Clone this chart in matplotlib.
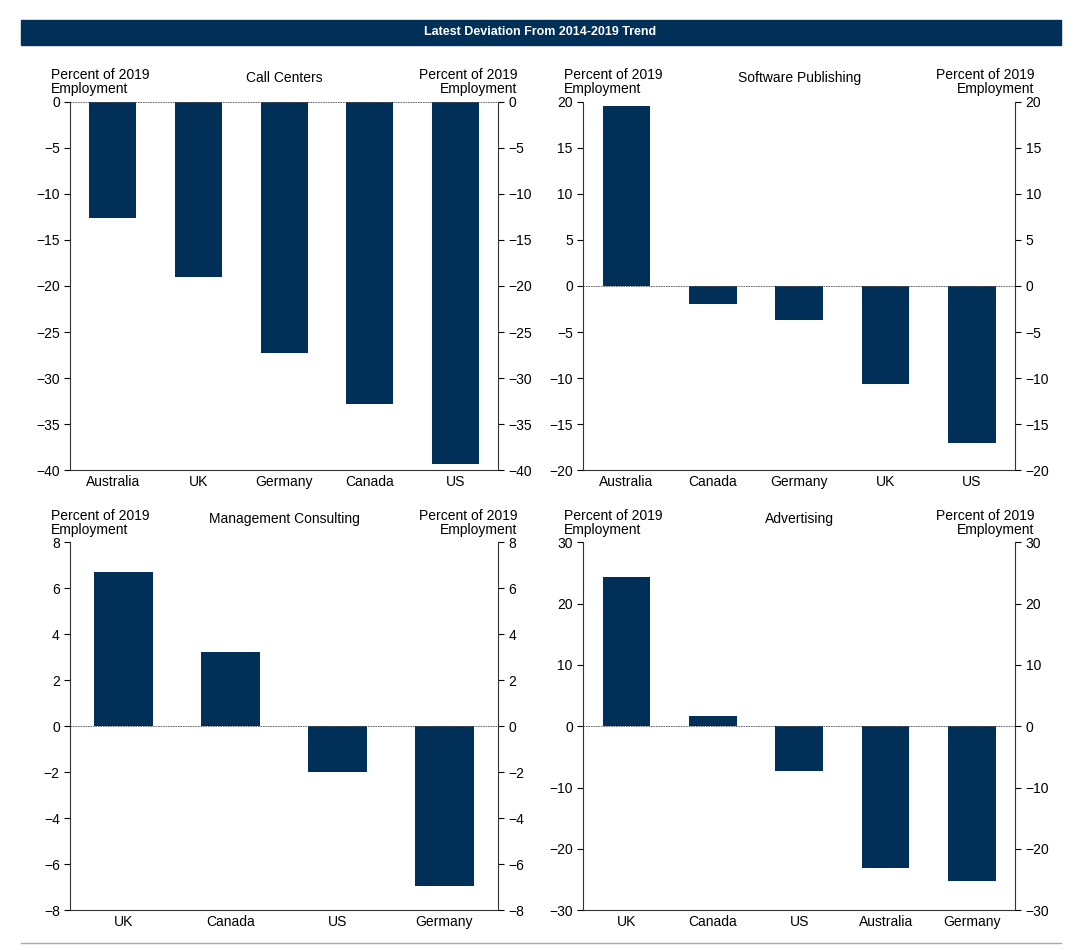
import matplotlib.pyplot as plt
from matplotlib.patches import Rectangle

navy = '#003057'

cc_names = ['Australia', 'UK', 'Germany', 'Canada', 'US']
cc_vals = [-12.6, -19.0, -27.3, -32.8, -39.3]

sw_names = ['Australia', 'Canada', 'Germany', 'UK', 'US']
sw_vals = [19.5, -2.0, -3.7, -10.6, -17.0]

mc_names = ['UK', 'Canada', 'US', 'Germany']
mc_vals = [6.7, 3.25, -2.0, -6.95]

ad_names = ['UK', 'Canada', 'US', 'Australia', 'Germany']
ad_vals = [24.3, 1.7, -7.3, -23.1, -25.2]

panels = [
    ('Call Centers', cc_names, cc_vals, (-40, 0), 5, [0.065, 0.505, 0.396, 0.388]),
    ('Software Publishing', sw_names, sw_vals, (-20, 20), 5, [0.540, 0.505, 0.400, 0.388]),
    ('Management Consulting', mc_names, mc_vals, (-8, 8), 2, [0.065, 0.042, 0.396, 0.387]),
    ('Advertising', ad_names, ad_vals, (-30, 30), 10, [0.540, 0.042, 0.400, 0.387]),
]

fig = plt.figure(figsize=(10.8, 9.5), dpi=100)
plt.rcParams['font.family'] = ['Liberation Sans', 'DejaVu Sans']

fig.patches.append(Rectangle((0.019, 0.953), 0.963, 0.026, transform=fig.transFigure,
                             color=navy, zorder=0))
fig.text(0.5, 0.966, 'Latest Deviation From 2014-2019 Trend', color='white',
         ha='center', va='center', fontsize=9, fontweight='bold')
fig.add_artist(plt.Line2D([0.019, 0.982], [0.007, 0.007], color='#aaaaaa', lw=1))

for title, names, vals, lim, step, rect in panels:
    ax = fig.add_axes(rect)
    x = range(len(names))
    ax.bar(x, vals, width=0.55, color=navy, zorder=2)
    ax.axhline(0, color='#555555', lw=0.6, ls=(0, (2, 1)), zorder=3)
    ax.set_xlim(-0.5, len(names) - 0.5)
    ax.set_ylim(*lim)
    ticks = list(range(lim[0], lim[1] + 1, step))
    ax.set_yticks(ticks)
    ax.set_yticklabels([str(t).replace('-', '\u2212') for t in ticks])
    ax.set_xticks(list(x))
    ax.set_xticklabels(names)
    ax.tick_params(labelsize=10, direction='out', length=4, right=True, labelright=True)
    ax.tick_params(axis='x', length=0)
    for s in ax.spines.values():
        s.set_color('#333333')
        s.set_linewidth(0.8)
    ax.spines['top'].set_visible(False)
    ax.text(0.5, 1.065, title, transform=ax.transAxes, ha='center', va='center', fontsize=10)
    ax.text(-0.045, 1.015, 'Percent of 2019\nEmployment', transform=ax.transAxes,
            ha='left', va='bottom', fontsize=10, linespacing=1.0)
    ax.text(1.045, 1.015, 'Percent of 2019\nEmployment', transform=ax.transAxes,
            ha='right', va='bottom', fontsize=10, linespacing=1.0, multialignment='right')

fig.savefig('out.png', dpi=100)
